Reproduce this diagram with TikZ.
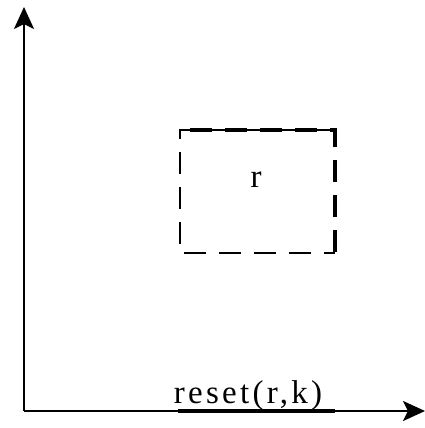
\documentclass[tikz,border=0pt]{standalone}
\usepackage{fontspec}
\setmainfont{Liberation Serif}
\newfontfamily\lblfont[LetterSpace=10]{Liberation Serif}
\usepackage{tikz}
\usetikzlibrary{arrows.meta, positioning}
\tikzset{
  axis/.style={line width=2.5pt, -{Stealth[length=22pt, width=20pt, inset=5pt]}},
  region/.style={dash pattern=on 22pt off 13pt},
  lbl/.style={font=\lblfont\fontsize{33}{38}\selectfont, inner sep=0pt}
}

\begin{document}
\begin{tikzpicture}[x=1pt, y=-1pt]
        \useasboundingbox (0,0) rectangle (425,428);
        \coordinate (o) at (24,411);
        \coordinate (ytip) at (24,7);
        \coordinate (xtip) at (425,411);
        \draw[axis] (o) -- (ytip);
        \draw[axis] (o) -- (xtip);
        % dashed region r
        \coordinate (nw) at (180,130);
        \coordinate (ne) at (335,130);
        \coordinate (se) at (335,253);
        \coordinate (sw) at (180,253);
        \draw[region, line width=2.5pt] (ne) ++(-2,0) -- (nw) -- (sw) -- (se);
        \draw[region, line width=4.5pt] (nw) ++(10,0) -- (ne) -- (se);
        \node[lbl] (r) at (256,180) {r};
        % reset interval on the x axis
        \coordinate (a) at (178,411);
        \coordinate (b) at (335,411);
        \draw[line width=4.5pt] (a) -- (b);
        \node[lbl, anchor=base] (reset) at (248,403) {reset(r,k)};
      \end{tikzpicture}
\end{document}
